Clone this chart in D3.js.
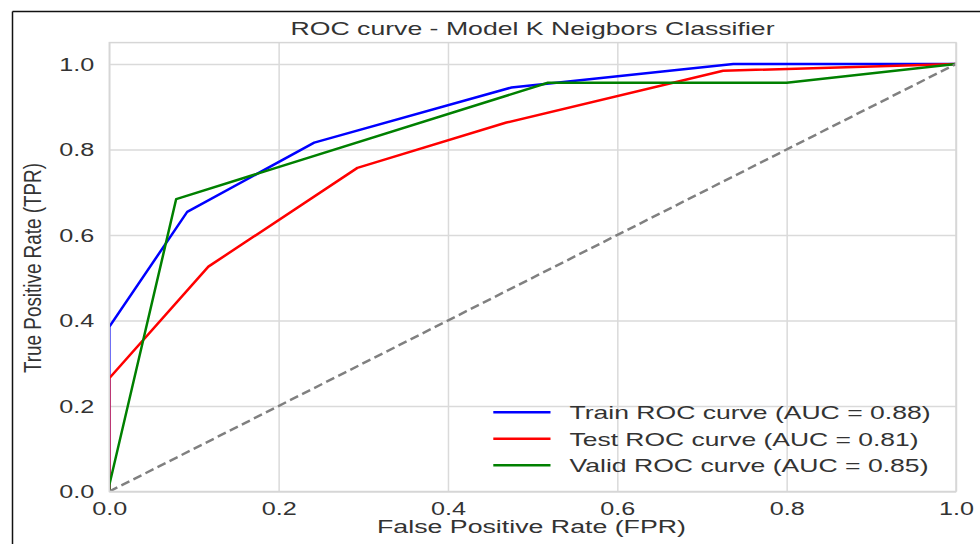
<!DOCTYPE html>
<html>
<head>
<meta charset="utf-8">
<script src="https://cdn.jsdelivr.net/npm/d3@7"></script>
<style>
  body { margin: 0; background: #fff; }
  text { font-family: "Liberation Sans", Arial, sans-serif; fill: #333; }
</style>
</head>
<body>
<div id="chart"></div>
<script>
// ROC points
var trainFpr = [0, 0, 0.092, 0.242, 0.475, 0.737, 1];
var trainTpr = [0, 0.385, 0.654, 0.816, 0.945, 1, 1];
var testFpr = [0, 0, 0.117, 0.293, 0.469, 0.725, 1];
var testTpr = [0, 0.265, 0.526, 0.757, 0.863, 0.984, 1];
var validFpr = [0, 0, 0.079, 0.518, 0.8, 1];
var validTpr = [0, 0.015, 0.684, 0.956, 0.956, 1];
var chanceLine = [0, 1];
var tickValues = [0, 0.2, 0.4, 0.6, 0.8, 1.0];
var seriesNames = ["Train ROC curve (AUC = 0.88)", "Test ROC curve (AUC = 0.81)", "Valid ROC curve (AUC = 0.85)"];

var svgWidth = 980;
var svgHeight = 544;
var margin = { top: 42.6, right: 24, bottom: 52.5, left: 109.3 };
var width = svgWidth - margin.left - margin.right;
var height = svgHeight - margin.top - margin.bottom;

var svg = d3.select("#chart").append("svg")
  .attr("width", svgWidth)
  .attr("height", svgHeight);

// figure frame (only left/top edges visible)
svg.append("line").attr("x1", 12.5).attr("y1", 11.5).attr("x2", 980).attr("y2", 11.5)
  .attr("stroke", "#111").attr("stroke-width", 1.5);
svg.append("line").attr("x1", 12.5).attr("y1", 11.5).attr("x2", 12.5).attr("y2", 544)
  .attr("stroke", "#111").attr("stroke-width", 1.5);

var chartGroup = svg.append("g")
  .attr("transform", `translate(${margin.left}, ${margin.top})`);

var x = d3.scaleLinear().domain([0, 1]).range([0, width]);
var y = d3.scaleLinear().domain([0, 1.05]).range([height, 0]);

svg.append("clipPath").attr("id", "plotclip")
  .append("rect").attr("width", width).attr("height", height);

// grid
chartGroup.append("g")
  .attr("transform", `translate(0, ${height})`)
  .call(d3.axisBottom(x).tickValues(tickValues).tickSize(-height).tickFormat(""))
  .call(g => g.select(".domain").remove())
  .selectAll("line").attr("stroke", "#dadada").attr("stroke-width", 1.5);

chartGroup.append("g")
  .call(d3.axisLeft(y).tickValues(tickValues).tickSize(-width).tickFormat(""))
  .call(g => g.select(".domain").remove())
  .selectAll("line").attr("stroke", "#dadada").attr("stroke-width", 1.5);

// tick labels
var xAxis = chartGroup.append("g")
  .attr("transform", `translate(0, ${height})`)
  .call(d3.axisBottom(x).tickValues(tickValues).tickSize(0).tickFormat(d3.format(".1f")));
xAxis.select(".domain").remove();
xAxis.selectAll("text")
  .attr("y", 23.5).attr("dy", 0)
  .attr("font-size", "17.5px")
  .attr("fill", "#333")
  .attr("font-family", "Liberation Sans, Arial, sans-serif")
  .attr("textLength", 35).attr("lengthAdjust", "spacingAndGlyphs");

var yAxis = chartGroup.append("g")
  .call(d3.axisLeft(y).tickValues(tickValues).tickSize(0).tickPadding(15).tickFormat(d3.format(".1f")));
yAxis.select(".domain").remove();
yAxis.selectAll("text")
  .attr("dy", "0.36em")
  .attr("font-size", "17.5px")
  .attr("fill", "#333")
  .attr("font-family", "Liberation Sans, Arial, sans-serif")
  .attr("textLength", 35).attr("lengthAdjust", "spacingAndGlyphs");

// curves
var line = d3.line().x(d => x(d[0])).y(d => y(d[1]));
var plotArea = chartGroup.append("g").attr("clip-path", "url(#plotclip)");

var curves = [
  { fpr: trainFpr, tpr: trainTpr, color: "#0000ff" },
  { fpr: testFpr, tpr: testTpr, color: "#ff0000" },
  { fpr: validFpr, tpr: validTpr, color: "#008000" }
];

curves.forEach(function(c) {
  plotArea.append("path")
    .datum(d3.zip(c.fpr, c.tpr))
    .attr("d", line)
    .attr("fill", "none")
    .attr("stroke", c.color)
    .attr("stroke-width", 2.5)
    .attr("stroke-linejoin", "round");
});

plotArea.append("path")
  .datum(d3.zip(chanceLine, chanceLine))
  .attr("d", line)
  .attr("fill", "none")
  .attr("stroke", "#808080")
  .attr("stroke-width", 2.5)
  .attr("stroke-dasharray", "9,4.5");

// spines
chartGroup.append("rect")
  .attr("width", width).attr("height", height)
  .attr("fill", "none")
  .attr("stroke", "#d6d6d6")
  .attr("stroke-width", 1.5);

// legend
var legendRows = [412.3, 438.8, 465.3];
var legendLengths = [361, 349, 359];
seriesNames.forEach(function(name, i) {
  svg.append("line")
    .attr("x1", 493.3).attr("x2", 550.5)
    .attr("y1", legendRows[i]).attr("y2", legendRows[i])
    .attr("stroke", curves[i].color)
    .attr("stroke-width", 2.5);
  svg.append("text")
    .attr("x", 569.5)
    .attr("y", legendRows[i])
    .attr("dy", "0.36em")
    .attr("font-size", "19px")
    .attr("textLength", legendLengths[i])
    .attr("lengthAdjust", "spacingAndGlyphs")
    .text(name);
});

// title + axis labels
svg.append("text")
  .attr("x", 532.5).attr("y", 34.5)
  .attr("text-anchor", "middle")
  .attr("font-size", "19px")
  .attr("textLength", 484)
  .attr("lengthAdjust", "spacingAndGlyphs")
  .text("ROC curve - Model K Neigbors Classifier");

svg.append("text")
  .attr("x", 531.5).attr("y", 533)
  .attr("text-anchor", "middle")
  .attr("font-size", "17.5px")
  .attr("textLength", 309)
  .attr("lengthAdjust", "spacingAndGlyphs")
  .text("False Positive Rate (FPR)");

svg.append("text")
  .attr("transform", "translate(41, 268) scale(1.44, 1) rotate(-90)")
  .attr("text-anchor", "middle")
  .attr("font-size", "17px")
  .attr("textLength", 210)
  .attr("lengthAdjust", "spacingAndGlyphs")
  .text("True Positive Rate (TPR)");
</script>
</body>
</html>
